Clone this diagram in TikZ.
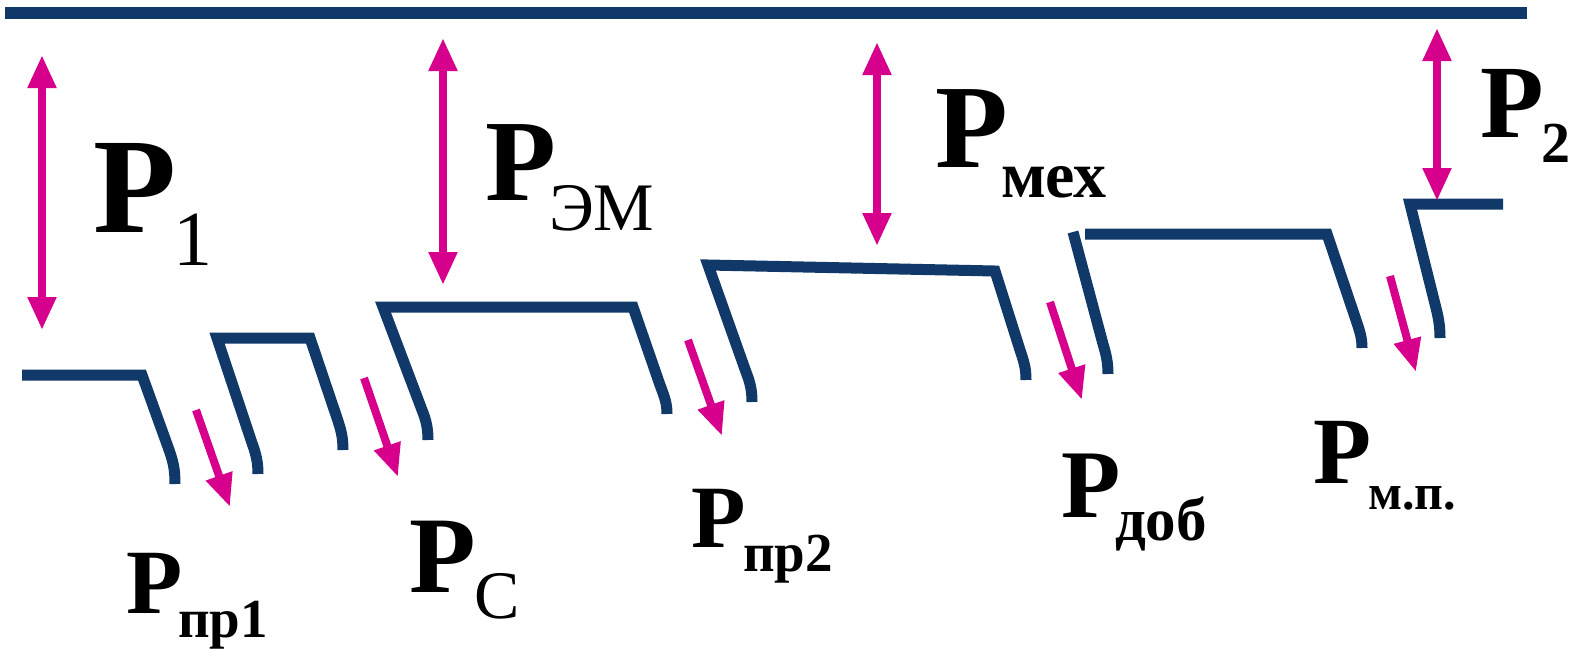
\documentclass[tikz,border=0pt]{standalone}
\usepackage{fontspec}
\setmainfont{Liberation Serif}
\usetikzlibrary{arrows.meta}
\definecolor{navy}{RGB}{16,56,104}
\definecolor{mgnt}{RGB}{214,0,140}
\newcommand{\fs}[1]{\fontsize{#1}{#1}\selectfont}
\begin{document}
\begin{tikzpicture}[x=1pt,y=-1pt,
  stroke/.style={draw=navy, line width=11pt, line join=miter},
  topln/.style={draw=navy, line width=12pt},
  flow/.style={draw=mgnt, line width=8pt, {Triangle[width=27pt,length=33pt]}-{Triangle[width=27pt,length=33pt]}},
  loss/.style={draw=mgnt, line width=8pt, -{Triangle[width=26pt,length=33pt]}},
  lbl/.style={anchor=base west, inner sep=0pt, outer sep=0pt, text=black}]
\useasboundingbox[fill=white] (0,0) rectangle (1577,649);

% top line
\coordinate (t0) at (5,13);
\coordinate (t1) at (1527,13);
\draw[topln] (t0) -- (t1);

% stepped power line
\draw[stroke] (22,375) -- (142,375) -- (168,447) .. controls (173,461) and (175,468) .. (175,484);
\draw[stroke] (258,474) .. controls (258,462) and (256,454) .. (252,443) -- (217,338) -- (310,338) -- (337,418) .. controls (341,430) and (343,437) .. (343,450);
\draw[stroke] (428,440) .. controls (428,428) and (426,420) .. (422,410) -- (383,307) -- (633,307) -- (660,385) .. controls (665,398) and (667,404) .. (667,414);
\draw[stroke] (752,402) .. controls (752,390) and (750,382) .. (746,372) -- (708,265) -- (995,271) -- (1020,350) .. controls (1024,362) and (1026,368) .. (1026,380);
\draw[stroke] (1108,374) .. controls (1108,362) and (1106,354) .. (1103,344) -- (1073,232);
\draw[stroke] (1085,234) -- (1327,234) -- (1356,320) .. controls (1360,332) and (1362,338) .. (1362,348);
\draw[stroke] (1440,338) .. controls (1440,328) and (1439,321) .. (1437,312) -- (1410,204) -- (1503,204);

% vertical power arrows
\coordinate (a1t) at (42,55);   \coordinate (a1b) at (42,330);
\coordinate (a2t) at (443,38);  \coordinate (a2b) at (443,285);
\coordinate (a3t) at (877,42);  \coordinate (a3b) at (877,246);
\coordinate (a4t) at (1437,28); \coordinate (a4b) at (1437,201);
\draw[flow] (a1t) -- (a1b);
\draw[flow] (a2t) -- (a2b);
\draw[flow] (a3t) -- (a3b);
\draw[flow] (a4t) -- (a4b);

% loss arrows
\coordinate (l1s) at (196,410);  \coordinate (l1e) at (230,507);
\coordinate (l2s) at (364,378);  \coordinate (l2e) at (398,477);
\coordinate (l3s) at (688,340);  \coordinate (l3e) at (722,436);
\coordinate (l4s) at (1050,302); \coordinate (l4e) at (1082,400);
\coordinate (l5s) at (1390,276); \coordinate (l5e) at (1416,372);
\draw[loss] (l1s) -- (l1e);
\draw[loss] (l2s) -- (l2e);
\draw[loss] (l3s) -- (l3e);
\draw[loss] (l4s) -- (l4e);
\draw[loss] (l5s) -- (l5e);

% labels
\node[lbl] (P1) at (93,232) {\fs{136}\bfseries P\kern-3pt\raisebox{-33pt}{\fs{78}\mdseries 1}};

\node[lbl, font=\fs{116}\bfseries] (Pem) at (485,200) {P};
\node[lbl, font=\fs{68}] (Pems) at (549,230) {ЭМ};

\node[lbl, font=\fs{119}\bfseries] (Pmex) at (935,167) {P};
\node[lbl, font=\fs{66}\bfseries] (Pmexs) at (1001,197) {мех};

\node[lbl, font=\fs{104}\bfseries] (P2) at (1480,137) {P};
\node[lbl, font=\fs{58}\bfseries] (P2s) at (1541,162) {2};

\node[lbl, font=\fs{92}\bfseries] (Ppr1) at (126,613) {P};
\node[lbl, font=\fs{55}\bfseries] (Ppr1s) at (178,637) {пр1};

\node[lbl, font=\fs{109}\bfseries] (Pc) at (409,592) {P};
\node[lbl, font=\fs{68}] (Pcs) at (474,618) {С};

\node[lbl, font=\fs{89}\bfseries] (Ppr2) at (691,547) {P};
\node[lbl, font=\fs{55}\bfseries] (Ppr2s) at (743,571) {пр2};

\node[lbl, font=\fs{97}\bfseries] (Pdob) at (1061,517) {P};
\node[lbl, font=\fs{61}\bfseries] (Pdobs) at (1115,540) {доб};

\node[lbl, font=\fs{95}\bfseries] (Pmp) at (1313,483) {P};
\node[lbl, font=\fs{50}\bfseries] (Pmps) at (1368,509) {м.п.};
\end{tikzpicture}
\end{document}
